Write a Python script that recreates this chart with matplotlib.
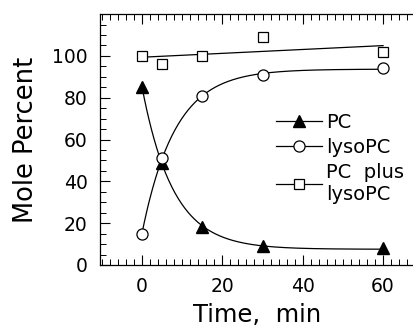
import numpy as np
import matplotlib
matplotlib.use('Agg')
import matplotlib.pyplot as plt
from matplotlib.ticker import MultipleLocator

# Datele
timp = [0, 5, 15, 30, 60]
pc = [85, 49, 18, 9, 8]
lyso_pc = [15, 51, 81, 91, 94]
pc_plus_lyso = [100, 96, 100, 109, 102]

plt.rcParams['font.family'] = ['DejaVu Sans']


def fit_exp(t, y):
    # y = a + b*exp(-k t), cautam k pe o grila, a si b prin cele mai mici patrate
    t = np.asarray(t, float)
    y = np.asarray(y, float)
    best = None
    for k in np.linspace(0.01, 1.0, 500):
        A = np.column_stack([np.ones_like(t), np.exp(-k * t)])
        coef, res, _, _ = np.linalg.lstsq(A, y, rcond=None)
        err = np.sum((A @ coef - y) ** 2)
        if best is None or err < best[0]:
            best = (err, coef, k)
    _, (a, b), k = best
    return lambda x: a + b * np.exp(-k * x)


fig = plt.figure(figsize=(4.14, 3.30), dpi=100)
ax = fig.add_axes([0.2415, 0.197, 0.7585, 0.761])

tt = np.linspace(min(timp), max(timp), 300)
f_pc = fit_exp(timp, pc)
f_lyso = fit_exp(timp, lyso_pc)
p = np.polyfit(timp, pc_plus_lyso, 1)

ax.plot(tt, f_pc(tt), color='black', lw=0.9)
ax.plot(tt, f_lyso(tt), color='black', lw=0.9)
ax.plot(tt, np.polyval(p, tt), color='black', lw=0.9)

ax.plot(timp, pc, ls='none', marker='^', ms=8.5, color='black')
ax.plot(timp, lyso_pc, ls='none', marker='o', ms=8, mfc='white', mec='black', mew=0.9)
ax.plot(timp, pc_plus_lyso, ls='none', marker='s', ms=7.5, mfc='white', mec='black', mew=0.9)

# intrari pentru legenda
h1, = ax.plot([], [], color='black', lw=0.9, marker='^', ms=8.5)
h2, = ax.plot([], [], color='black', lw=0.9, marker='o', ms=8, mfc='white', mew=0.9)
h3, = ax.plot([], [], color='black', lw=0.9, marker='s', ms=7.5, mfc='white', mew=0.9)
ax.legend([h1, h2, h3], ['PC', 'lysoPC', 'PC  plus\nlysoPC'], frameon=False,
          loc='upper left', bbox_to_anchor=(0.56, 0.605), fontsize=14,
          handlelength=2.4, handletextpad=0.2, labelspacing=0.3,
          borderaxespad=0, borderpad=0)

ax.set_xlim(-10.45, 67.7)
ax.set_ylim(0, 120.1)
ax.xaxis.set_major_locator(MultipleLocator(20))
ax.xaxis.set_minor_locator(MultipleLocator(2))
ax.yaxis.set_major_locator(MultipleLocator(20))
ax.yaxis.set_minor_locator(MultipleLocator(5))
ax.set_yticks([0, 20, 40, 60, 80, 100])
ax.tick_params(which='both', direction='in', top=True, right=False, labelsize=13.5)
ax.tick_params(which='major', length=7, width=0.8, pad=9)
ax.tick_params(which='minor', length=4, width=0.7)
ax.spines['right'].set_visible(False)
for s in ['left', 'bottom', 'top']:
    ax.spines[s].set_linewidth(0.9)

ax.set_xlabel('Time,  min', fontsize=17.5, labelpad=5)
ax.set_ylabel('Mole Percent', fontsize=18.5, labelpad=9)

plt.savefig('out.png', dpi=100)
plt.close()
